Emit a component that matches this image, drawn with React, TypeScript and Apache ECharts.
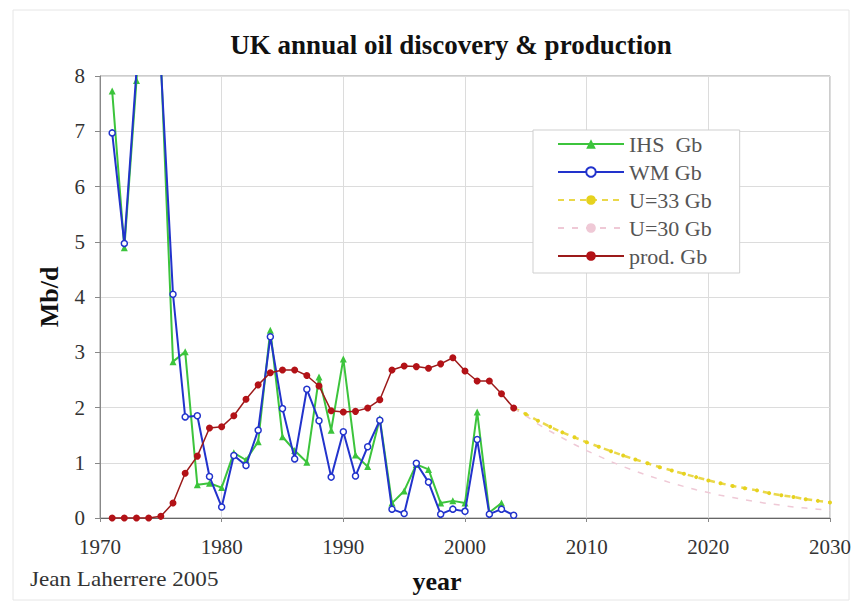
import React, { useEffect, useRef } from "react";
import * as echarts from "echarts";

// Historical years (discovery & production) and forecast years
const histYears: number[] = [
  1971, 1972, 1973, 1974, 1975, 1976, 1977, 1978, 1979, 1980,
  1981, 1982, 1983, 1984, 1985, 1986, 1987, 1988, 1989, 1990,
  1991, 1992, 1993, 1994, 1995, 1996, 1997, 1998, 1999, 2000,
  2001, 2002, 2003, 2004,
];
const forecastYears: number[] = [
  2004, 2005, 2006, 2007, 2008, 2009, 2010, 2011, 2012, 2013,
  2014, 2015, 2016, 2017, 2018, 2019, 2020, 2021, 2022, 2023,
  2024, 2025, 2026, 2027, 2028, 2029, 2030,
];

// IHS discovery (1971-2003)
const ihs: number[] = [
  7.73, 4.89, 7.92, 12.0, 8.3, 2.83, 3.01, 0.6, 0.63, 0.55,
  1.18, 1.05, 1.38, 3.4, 1.47, 1.22, 1.01, 2.55, 1.59, 2.88,
  1.14, 0.93, 1.8, 0.27, 0.49, 0.97, 0.88, 0.27, 0.31, 0.27,
  1.92, 0.1, 0.27,
];
// WM discovery (1971-2004)
const wm: number[] = [
  6.97, 4.97, 8.1, 12.5, 8.2, 4.05, 1.83, 1.85, 0.75, 0.2,
  1.13, 0.95, 1.59, 3.28, 1.98, 1.07, 2.33, 1.76, 0.74, 1.56,
  0.76, 1.29, 1.77, 0.16, 0.08, 0.99, 0.65, 0.07, 0.16, 0.12,
  1.42, 0.07, 0.16, 0.05,
];
// Production (1971-2004)
const prod: number[] = [
  0, 0, 0, 0, 0.03, 0.27, 0.81, 1.12, 1.63, 1.65,
  1.85, 2.15, 2.41, 2.63, 2.68, 2.68, 2.58, 2.39, 1.94, 1.92,
  1.93, 1.99, 2.14, 2.68, 2.75, 2.74, 2.71, 2.79, 2.9, 2.66,
  2.48, 2.48, 2.25, 1.99,
];
// Forecasts (2004-2030)
const u33: number[] = [
  1.99, 1.88, 1.76, 1.65, 1.55, 1.46, 1.37, 1.29, 1.21, 1.13,
  1.06, 0.99, 0.92, 0.86, 0.8, 0.74, 0.68, 0.63, 0.58, 0.54,
  0.5, 0.45, 0.41, 0.38, 0.34, 0.31, 0.28,
];
const u30: number[] = [
  1.99, 1.85, 1.7, 1.57, 1.45, 1.33, 1.22, 1.12, 1.02, 0.93,
  0.85, 0.77, 0.7, 0.63, 0.57, 0.51, 0.46, 0.41, 0.37, 0.33,
  0.29, 0.26, 0.23, 0.2, 0.18, 0.16, 0.14,
];

const seriesNames = ["IHS  Gb", "WM Gb", "U=33 Gb", "U=30 Gb", "prod. Gb"];

const pair = (xs: number[], ys: number[]) => ys.map((v, i) => [xs[i], v]);

const SERIF = "'Liberation Serif', 'DejaVu Serif', serif";

export default function App() {
  const ref = useRef<HTMLDivElement>(null);

  useEffect(() => {
    if (!ref.current) return;
    const chart = echarts.init(ref.current, null, { renderer: "svg" });
    chart.setOption({
      animation: false,
      backgroundColor: "#ffffff",
      textStyle: { fontFamily: SERIF },
      title: {
        text: "UK annual oil discovery & production",
        left: 446,
        textAlign: "center",
        top: 26,
        textStyle: { fontFamily: SERIF, fontWeight: "bold", fontSize: 27, color: "#111" },
      },
      legend: {
        orient: "vertical",
        left: 533,
        top: 130,
        padding: [3, 28, 6, 24],
        itemWidth: 66,
        itemHeight: 12,
        itemGap: 6,
        backgroundColor: "#ffffff",
        borderColor: "#cfcfcf",
        borderWidth: 1,
        data: seriesNames,
        textStyle: { fontFamily: SERIF, fontSize: 22, color: "#555" },
      },
      graphic: [
        {
          type: "rect",
          shape: { x: 13, y: 10, width: 836, height: 590 },
          style: { fill: "none", stroke: "#e6e6e6", lineWidth: 1 },
          silent: true,
          z: -1,
        },
        {
          type: "text",
          x: 437,
          y: 581,
          style: {
            text: "year",
            fontFamily: SERIF,
            fontWeight: "bold",
            fontSize: 26,
            fill: "#111",
            align: "center",
            verticalAlign: "middle",
          },
        },
        {
          type: "text",
          x: 30,
          y: 579,
          scaleX: 1.1,
          style: {
            text: "Jean Laherrere 2005",
            fontFamily: SERIF,
            fontSize: 21,
            fill: "#333",
            align: "left",
            verticalAlign: "middle",
          },
        },
      ],
      grid: {
        left: 100,
        top: 76,
        right: 22,
        bottom: 88,
        show: true,
        borderColor: "#9a9a9a",
        borderWidth: 1,
        backgroundColor: "transparent",
      },
      xAxis: {
        type: "value",
        min: 1970,
        max: 2030,
        interval: 10,
        axisLine: { show: true, onZero: false, lineStyle: { color: "#666" } },
        axisTick: { show: true, length: 4, lineStyle: { color: "#888" } },
        axisLabel: {
          margin: 18,
          fontFamily: SERIF,
          fontSize: 21,
          color: "#333",
          formatter: (v: number) => String(v),
        },
        splitLine: { show: true, lineStyle: { color: "#dcdcdc", width: 1 } },
      },
      yAxis: {
        type: "value",
        min: 0,
        max: 8,
        interval: 1,
        name: "Mb/d",
        nameLocation: "middle",
        nameGap: 38,
        nameRotate: 90,
        nameTextStyle: { fontFamily: SERIF, fontWeight: "bold", fontSize: 26, color: "#111" },
        axisLine: { show: true, lineStyle: { color: "#888" } },
        axisTick: { show: true, length: 5, lineStyle: { color: "#888" } },
        axisLabel: { margin: 15, fontFamily: SERIF, fontSize: 21, color: "#333" },
        splitLine: { show: true, lineStyle: { color: "#dcdcdc", width: 1 } },
      },
      series: [
        {
          name: seriesNames[0],
          type: "line",
          data: pair(histYears, ihs),
          clip: true,
          symbol: "triangle",
          symbolSize: 7,
          itemStyle: { color: "#3cc43c" },
          lineStyle: { color: "#3cc43c", width: 2 },
          z: 2,
        },
        {
          name: seriesNames[1],
          type: "line",
          data: pair(histYears, wm),
          clip: true,
          symbol: "circle",
          symbolSize: 6,
          itemStyle: { color: "#ffffff", borderColor: "#2233cc", borderWidth: 1.5 },
          lineStyle: { color: "#2233cc", width: 2 },
          z: 3,
        },
        {
          name: seriesNames[2],
          type: "line",
          data: pair(forecastYears, u33),
          clip: true,
          symbol: "circle",
          symbolSize: 4,
          itemStyle: { color: "#e6d21e" },
          lineStyle: { color: "#ead84a", width: 2.5, type: [6, 5] },
          z: 4,
        },
        {
          name: seriesNames[3],
          type: "line",
          data: pair(forecastYears, u30),
          clip: true,
          symbol: "none",
          itemStyle: { color: "#efc9d6" },
          lineStyle: { color: "#efc9d6", width: 1.5, type: [6, 8] },
          z: 4,
        },
        {
          name: seriesNames[4],
          type: "line",
          data: pair(histYears, prod),
          clip: true,
          symbol: "circle",
          symbolSize: 7,
          itemStyle: { color: "#b31217" },
          lineStyle: { color: "#9c1a1a", width: 1.5 },
          z: 5,
        },
      ],
    });
    return () => chart.dispose();
  }, []);

  return (
    <div
      ref={ref}
      style={{ width: 854, height: 606, position: "absolute", left: 0, top: 0 }}
    />
  );
}
